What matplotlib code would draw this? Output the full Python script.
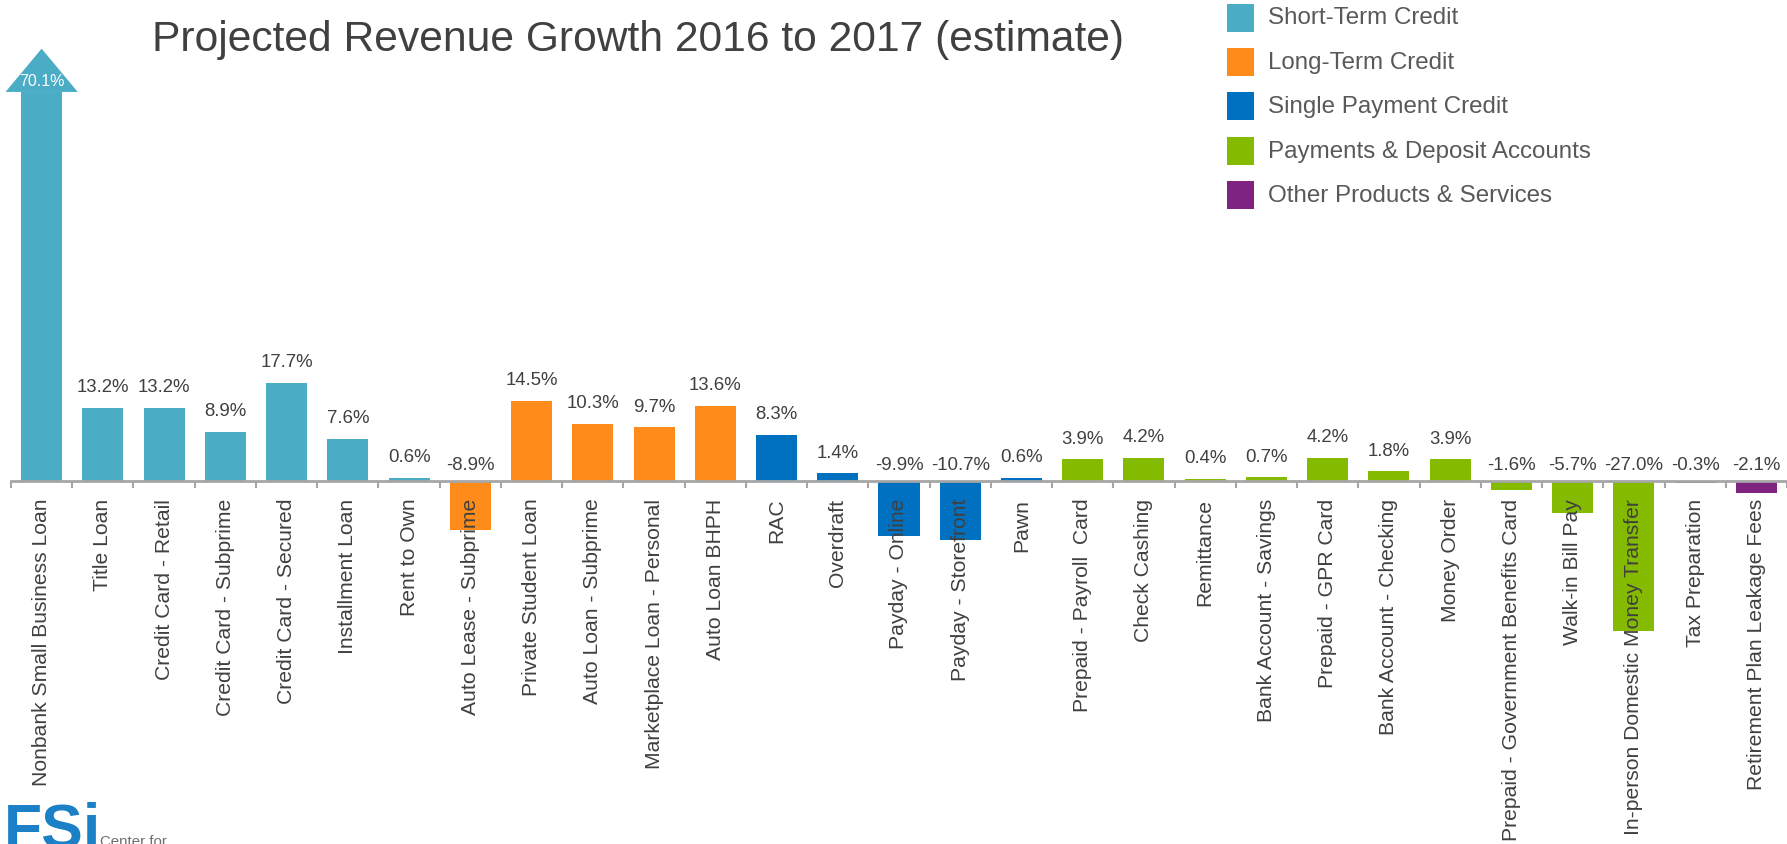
import matplotlib
matplotlib.use("Agg")
import matplotlib.pyplot as plt
from matplotlib.patches import Polygon, Rectangle

plt.rcParams['font.family'] = ['Liberation Sans', 'DejaVu Sans']

# Product categories and projected revenue growth (%)
products = [
    "Nonbank Small Business Loan", "Title Loan", "Credit Card - Retail",
    "Credit Card - Subprime", "Credit Card - Secured", "Installment Loan",
    "Rent to Own", "Auto Lease - Subprime", "Private Student Loan",
    "Auto Loan - Subprime", "Marketplace Loan - Personal", "Auto Loan BHPH",
    "RAC", "Overdraft", "Payday - Online", "Payday - Storefront", "Pawn",
    "Prepaid - Payroll  Card", "Check Cashing", "Remittance",
    "Bank Account - Savings", "Prepaid - GPR Card", "Bank Account - Checking",
    "Money Order", "Prepaid - Government Benefits Card", "Walk-in Bill Pay",
    "In-person Domestic Money Transfer", "Tax Preparation",
    "Retirement Plan Leakage Fees",
]
growth = [70.1, 13.2, 13.2, 8.9, 17.7, 7.6, 0.6, -8.9, 14.5, 10.3, 9.7, 13.6,
          8.3, 1.4, -9.9, -10.7, 0.6, 3.9, 4.2, 0.4, 0.7, 4.2, 1.8, 3.9,
          -1.6, -5.7, -27.0, -0.3, -2.1]
segment = [0, 0, 0, 0, 0, 0, 0, 1, 1, 1, 1, 1, 2, 2, 2, 2, 2,
           3, 3, 3, 3, 3, 3, 3, 3, 3, 3, 4, 4]

segment_names = ["Short-Term Credit", "Long-Term Credit", "Single Payment Credit",
                 "Payments & Deposit Accounts", "Other Products & Services"]
segment_colors = ["#4BACC6", "#FF8C1A", "#0070C0", "#84BB00", "#7E2480"]

TEXT = "#404040"
W, H = 1787, 845
fig = plt.figure(figsize=(W / 100, H / 100), dpi=100)

# axes: zero line sits 482 px from the top, 5.55 px per percentage point
ymin, ymax = -30, 80
ppu = 5.55
zero_from_bottom = H - 482
ax = fig.add_axes([11 / W, (zero_from_bottom + ymin * ppu) / H,
                   1 - 11 / W, (ymax - ymin) * ppu / H])
ax.set_xlim(-0.5, len(products) - 0.5)
ax.set_ylim(ymin, ymax)
for s in ("top", "left", "right"):
    ax.spines[s].set_visible(False)
# bottom spine becomes the zero line
ax.spines["bottom"].set_position(("data", 0))
ax.spines["bottom"].set_color("#A6A6A6")
ax.spines["bottom"].set_linewidth(2)
ax.spines["bottom"].set_zorder(2)
ax.set_yticks([])

x = list(range(len(products)))
colors = [segment_colors[g] for g in segment]
ax.bar(x, growth, width=0.67, color=colors, zorder=1)

# arrowhead on the off-scale first bar
v0 = growth[0]
ax.add_patch(Polygon([[x[0] - 0.59, v0], [x[0] + 0.59, v0], [x[0], v0 + 7.8]],
                     closed=True, facecolor=segment_colors[segment[0]],
                     edgecolor="none", clip_on=False, zorder=1))
ax.text(x[0], v0 + 2.0, f"{v0:.1f}%", color="white", fontsize=11.5,
        ha="center", va="center", zorder=3)

# value labels
for xi, v in zip(x[1:], growth[1:]):
    off = 21 if v >= 0 else 16
    ax.annotate(f"{v:.1f}%", (xi, max(v, 0)), xytext=(0, off * 0.72),
                textcoords="offset points", ha="center", va="center",
                fontsize=13.4, color=TEXT)

# category ticks
ax.set_xticks(x)
ax.set_xticklabels(products, rotation=90, fontsize=15.2, color=TEXT,
                   va="top", ha="center")
ax.tick_params(axis="x", which="major", length=0, pad=12)
ax.set_xticks([i - 0.5 for i in range(len(products) + 1)], minor=True)
ax.tick_params(axis="x", which="minor", length=5, width=1.5,
               color="#A6A6A6", direction="out")

# title
fig.text(152 / W, 1 - 40.5 / H, "Projected Revenue Growth 2016 to 2017 (estimate)",
         fontsize=30.7, color=TEXT, ha="left", va="center")

# legend
for i, (name, col) in enumerate(zip(segment_names, segment_colors)):
    cy = 18.5 + i * 44.4
    fig.patches.append(Rectangle((1227 / W, 1 - (cy + 14) / H), 27 / W, 28 / H,
                                 transform=fig.transFigure, facecolor=col,
                                 edgecolor="none"))
    fig.text(1268 / W, 1 - cy / H, name, fontsize=17.4, color="#595959",
             ha="left", va="center")

# logo
fig.text(4 / W, 1 - 848 / H, "FSi", fontsize=45, fontweight="bold",
         color="#1B80C5", ha="left", va="baseline")
fig.text(100 / W, 1 - 846 / H, "Center for", fontsize=10.8, color="#707070",
         ha="left", va="baseline")

fig.savefig("out.png", dpi=100)
